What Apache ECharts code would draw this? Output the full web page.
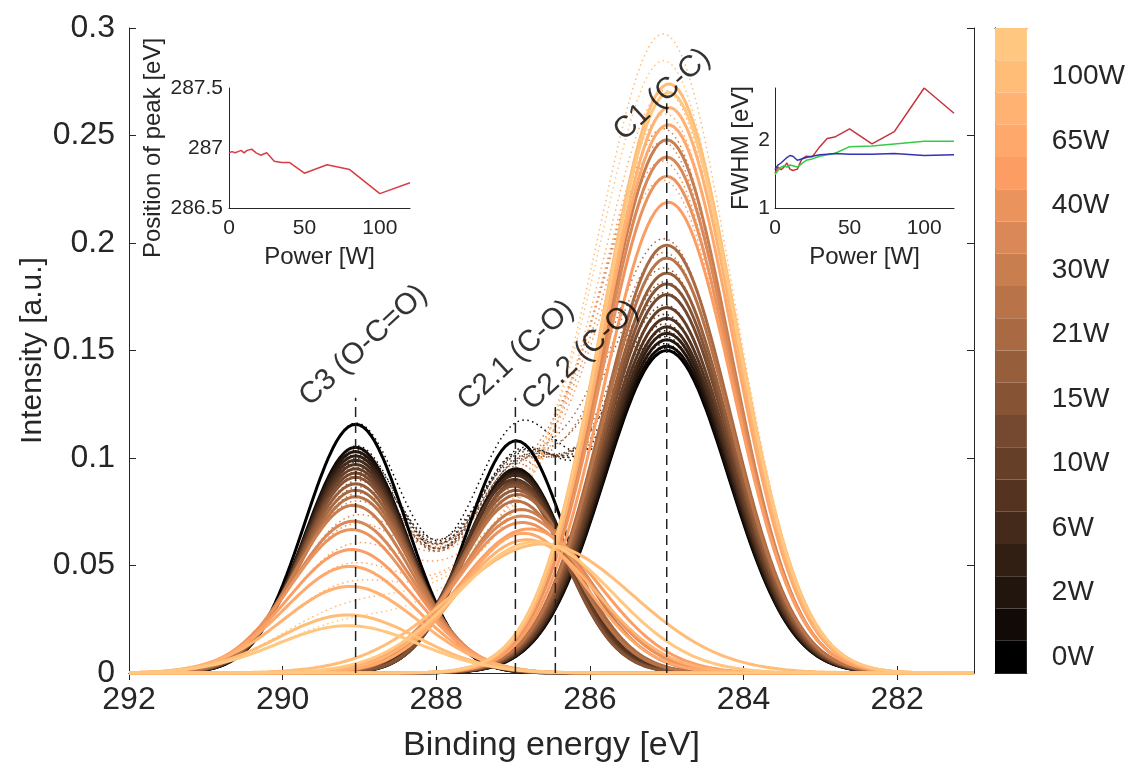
<!DOCTYPE html>
<html><head><meta charset="utf-8">
<script src="https://cdn.jsdelivr.net/npm/echarts@6/dist/echarts.min.js"></script>
<style>html,body{margin:0;padding:0;background:#fff}#chart{width:1128px;height:774px}</style>
</head><body><div id="chart"></div>
<script>
// ---------- data ----------
const powers = [0,1,2,4,6,8,10,12,15,18,21,25,30,35,40,50,65,80,100,120];
// fitted component C1 (C-C)
const c1Height = [0.150,0.152,0.155,0.158,0.161,0.165,0.170,0.176,0.181,0.186,0.199,0.193,0.248,0.240,0.231,0.219,0.255,0.263,0.274,0.270];
const c1Center = [285.0,285.0,285.0,285.0,285.0,285.0,285.0,285.0,285.0,285.0,285.0,285.0,285.0,285.0,285.0,284.98,284.98,284.97,284.97,284.97];
const c1Fwhm   = [1.90,1.90,1.90,1.91,1.91,1.92,1.92,1.93,1.93,1.94,1.95,1.95,1.96,1.97,1.98,1.98,2.00,2.00,2.02,2.02];
// fitted component C2.1 (C-O)
const c21Height = [0.108,0.095,0.094,0.093,0.092,0.090,0.089,0.088,0.087,0.085,0.083,0.080,0.076,0.073,0.070,0.067,0.065,0.062,0.060,0.061];
const c21Center = [286.96,286.96,286.97,286.96,286.97,286.98,286.96,286.98,286.99,286.96,286.94,286.96,286.89,286.88,286.88,286.79,286.86,286.82,286.62,286.71];
const c21Fwhm   = [1.51,1.55,1.60,1.56,1.60,1.66,1.57,1.55,1.57,1.72,1.76,1.75,1.90,2.02,2.04,2.16,1.94,2.12,2.76,2.39];
// fitted component C3 (O-C=O)
const c3Height = [0.1157,0.105,0.103,0.101,0.099,0.097,0.095,0.093,0.091,0.088,0.085,0.082,0.078,0.0706,0.0667,0.0574,0.0496,0.0403,0.027,0.022];
const c3Center = [289.05,289.05,289.05,289.05,289.05,289.05,289.05,289.05,289.05,289.05,289.05,289.05,289.08,289.08,289.10,289.10,289.12,289.12,289.15,289.15];
const c3Fwhm   = [1.55,1.57,1.58,1.60,1.61,1.62,1.63,1.64,1.66,1.68,1.70,1.73,1.78,1.84,1.88,1.95,2.00,2.08,2.15,2.20];
// peak markers and labels
const peakNames = ['C3 (O-C=O)','C2.1 (C-O)','C2.2 (C-O)','C1 (C-C)'];
const peakLineE = [289.05,286.97,286.45,285.0];
const peakLineTop = [0.128,0.128,0.126,0.265];
const peakLabelE = [289.72,287.66,286.82,285.63];
const peakLabelI = [0.1265,0.1245,0.1245,0.250];
// insets
const insetPosition = [286.96,286.96,286.97,286.96,286.97,286.98,286.96,286.98,286.99,286.96,286.94,286.96,286.89,286.88,286.88,286.79,286.86,286.82,286.62,286.71];
const fwhmRed   = [1.51,1.55,1.60,1.56,1.60,1.66,1.57,1.55,1.57,1.72,1.76,1.75,1.90,2.02,2.04,2.16,1.94,2.12,2.76,2.39];
const fwhmGreen = [1.49,1.52,1.55,1.60,1.62,1.60,1.63,1.62,1.60,1.65,1.70,1.72,1.76,1.78,1.80,1.90,1.91,1.94,1.98,1.98];
const fwhmBlue  = [1.56,1.60,1.63,1.66,1.70,1.74,1.77,1.76,1.70,1.72,1.74,1.76,1.78,1.79,1.80,1.79,1.79,1.80,1.77,1.78];
const xTicks = [282,284,286,288,290,292];
const fwhmTicks = [1,2];

// ---------- build ----------
const FONT = 'Liberation Sans';
const TXT = '#262626';
function copper(t){
  const r = Math.min(1,1.25*t), g = 0.7812*t, b = 0.4975*t;
  return 'rgb(' + Math.round(r*255) + ',' + Math.round(g*255) + ',' + Math.round(b*255) + ')';
}
const K = 4*Math.LN2;
function gauss(h,c,f,e){ return h*Math.exp(-K*(e-c)*(e-c)/(f*f)); }
const energies = [];
for (let k=0;k<=220;k++) energies.push(+(281 + k*0.05).toFixed(2));
const comps = [[c3Height,c3Center,c3Fwhm],[c21Height,c21Center,c21Fwhm],[c1Height,c1Center,c1Fwhm]];
const N = powers.length;
const series = [];
// dotted envelopes
powers.forEach((p,i)=>{
  const col = copper(i/(N-1));
  series.push({type:'line', xAxisIndex:0, yAxisIndex:0, symbol:'none', silent:true, z:2,
    lineStyle:{color:col, width:1.5, type:[1.5,3.5]},
    data: energies.map(e=>[e, comps.reduce((s,c)=>s+gauss(c[0][i],c[1][i],c[2][i],e),0)])});
});
// components
powers.forEach((p,i)=>{
  const col = copper(i/(N-1));
  comps.forEach(c=>{
    series.push({type:'line', xAxisIndex:0, yAxisIndex:0, symbol:'none', silent:true, z:3,
      lineStyle:{color:col, width:3},
      data: energies.map(e=>[e, gauss(c[0][i],c[1][i],c[2][i],e)])});
  });
});
// dashed markers
peakLineE.forEach((e,k)=>{
  series.push({type:'line', xAxisIndex:0, yAxisIndex:0, symbol:'none', silent:true, z:5,
    lineStyle:{color:'#222', width:1.5, type:[10,6]}, data:[[e,0],[e,peakLineTop[k]]]});
});
// peak labels
series.push({type:'scatter', xAxisIndex:0, yAxisIndex:0, symbolSize:0, silent:true, z:6,
  label:{show:true, formatter:'{b}', position:'right', distance:0, align:'left', verticalAlign:'middle',
    rotate:43, fontFamily:FONT, fontSize:30, color:'#000'},
  data: peakNames.map((n,k)=>({name:n, value:[peakLabelE[k], peakLabelI[k]]}))});
// insets
series.push({type:'line', xAxisIndex:2, yAxisIndex:2, symbol:'none', silent:true,
  lineStyle:{color:'#d83c44', width:1.5}, data: powers.map((p,i)=>[p, insetPosition[i]])});
[[fwhmRed,'#c8323c'],[fwhmGreen,'#33cc44'],[fwhmBlue,'#3333b4']].forEach(([arr,col])=>{
  series.push({type:'line', xAxisIndex:3, yAxisIndex:3, symbol:'none', silent:true,
    lineStyle:{color:col, width:1.5}, data: powers.map((p,i)=>[p, arr[i]])});
});
// colorbar
series.push({type:'bar', xAxisIndex:4, yAxisIndex:4, barCategoryGap:'0%', silent:true,
  data: powers.map((p,i)=>({value:1, itemStyle:{color:copper(i/(N-1))}}))});

const axisLine = {show:true, lineStyle:{color:TXT, width:1}};
const noSplit = {show:false};
const option = {
  animation:false,
  backgroundColor:'#fff',
  grid:[
    {left:129, top:28, width:845, height:645},
    {left:229, top:88, width:181, height:120},
    {left:775, top:88, width:179, height:120},
    {left:995, top:28, width:45, height:645}
  ],
  xAxis:[
    {type:'value', gridIndex:0, min:281, max:292, inverse:true, position:'bottom',
      name:'Binding energy [eV]', nameLocation:'middle', nameGap:56, nameMoveOverlap:false,
      nameTextStyle:{fontFamily:FONT, fontSize:34, color:TXT},
      axisLine:axisLine, splitLine:noSplit,
      axisTick:{inside:true, length:7, customValues:xTicks, lineStyle:{color:TXT}},
      axisLabel:{customValues:xTicks, fontFamily:FONT, fontSize:32, color:TXT, margin:11}},
    {type:'value', gridIndex:0, min:281, max:292, inverse:true, position:'top',
      axisLine:axisLine, splitLine:noSplit,
      axisTick:{inside:true, length:7, customValues:xTicks, lineStyle:{color:TXT}},
      axisLabel:{show:false}},
    {type:'value', gridIndex:1, min:0, max:120, interval:50,
      name:'Power [W]', nameLocation:'middle', nameGap:37, nameMoveOverlap:false,
      nameTextStyle:{fontFamily:FONT, fontSize:24, color:TXT},
      axisLine:axisLine, splitLine:noSplit, axisTick:{show:false},
      axisLabel:{fontFamily:FONT, fontSize:21, color:TXT, margin:10}},
    {type:'value', gridIndex:2, min:0, max:120, interval:50,
      name:'Power [W]', nameLocation:'middle', nameGap:37, nameMoveOverlap:false,
      nameTextStyle:{fontFamily:FONT, fontSize:24, color:TXT},
      axisLine:axisLine, splitLine:noSplit, axisTick:{show:false},
      axisLabel:{fontFamily:FONT, fontSize:21, color:TXT, margin:10}},
    {type:'value', gridIndex:3, min:0, max:1, position:'bottom',
      axisLine:axisLine, splitLine:noSplit, axisTick:{show:false}, axisLabel:{show:false}},
    {type:'value', gridIndex:3, min:0, max:1, position:'top',
      axisLine:axisLine, splitLine:noSplit, axisTick:{show:false}, axisLabel:{show:false}}
  ],
  yAxis:[
    {type:'value', gridIndex:0, min:0, max:0.3, interval:0.05, position:'left',
      name:'Intensity [a.u.]', nameLocation:'middle', nameGap:81, nameRotate:90, nameMoveOverlap:false,
      nameTextStyle:{fontFamily:FONT, fontSize:30, color:TXT},
      axisLine:axisLine, splitLine:noSplit,
      axisTick:{inside:true, length:7, lineStyle:{color:TXT}},
      axisLabel:{fontFamily:FONT, fontSize:32, color:TXT, margin:14,
        formatter:v=>v===0?'0':String(+v.toFixed(2))}},
    {type:'value', gridIndex:0, min:0, max:0.3, interval:0.05, position:'right',
      axisLine:axisLine, splitLine:noSplit,
      axisTick:{inside:true, length:7, lineStyle:{color:TXT}}, axisLabel:{show:false}},
    {type:'value', gridIndex:1, min:286.5, max:287.5, interval:0.5,
      name:'Position of peak [eV]', nameLocation:'middle', nameGap:64, nameRotate:90, nameMoveOverlap:false,
      nameTextStyle:{fontFamily:FONT, fontSize:24, color:TXT},
      axisLine:axisLine, splitLine:noSplit, axisTick:{show:false},
      axisLabel:{fontFamily:FONT, fontSize:21, color:TXT, margin:6,
        formatter:v=>String(+v.toFixed(1))}},
    {type:'value', gridIndex:2, min:1, max:2.76, interval:1,
      name:'FWHM [eV]', nameLocation:'middle', nameGap:22, nameRotate:90, nameMoveOverlap:false,
      nameTextStyle:{fontFamily:FONT, fontSize:24, color:TXT},
      axisLine:axisLine, splitLine:noSplit, axisTick:{show:false},
      axisLabel:{customValues:fwhmTicks, fontFamily:FONT, fontSize:21, color:TXT, margin:5}},
    {type:'category', gridIndex:3, data:powers, position:'right',
      axisLine:axisLine,
      axisTick:{inside:true, length:6, interval:1, alignWithLabel:true, lineStyle:{color:TXT}},
      axisLabel:{interval:1, fontFamily:FONT, fontSize:28, color:TXT, margin:25,
        formatter:v=>v+'W'}},
    {type:'category', gridIndex:3, data:powers, position:'left',
      axisLine:axisLine, axisTick:{show:false}, axisLabel:{show:false}}
  ],
  series: series
};
const chart = echarts.init(document.getElementById('chart'), null, {renderer:'canvas'});
chart.setOption(option);
</script>
</body></html>
